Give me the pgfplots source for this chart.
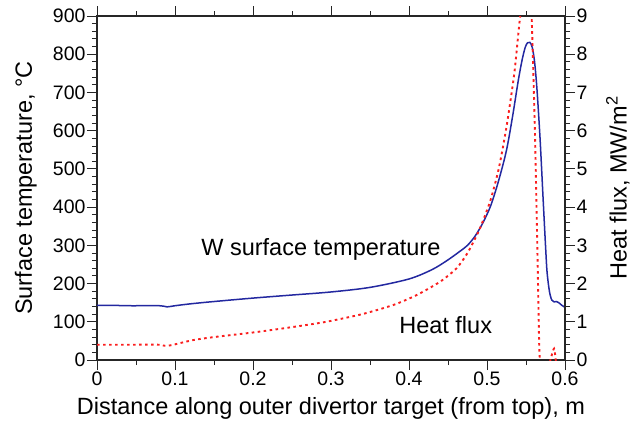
\documentclass[border=0pt]{standalone}
\usepackage{fontspec}
\setmainfont{Liberation Sans}
\usepackage{pgfplots}
\pgfplotsset{compat=1.18}
\definecolor{tempblue}{RGB}{35,40,160}
\definecolor{fluxred}{RGB}{250,30,30}

\pgfplotstableread{
x T
0 143
0.02 143
0.04 142
0.06 142
0.08 142
0.085 141
0.09 139
0.1 142
0.12 147
0.15 153
0.2 162
0.25 170
0.3 178
0.35 190
0.4 212
0.43 237
0.45 262
0.465 284
0.475 300
0.485 325
0.495 360
0.505 405
0.515 470
0.525 549
0.533 640
0.54 730
0.545 785
0.549 818
0.552 830
0.555 831
0.558 818
0.561 780
0.564 710
0.568 580
0.572 419
0.575 300
0.577 230
0.58 180
0.583 157
0.586 152
0.589 153
0.592 150
0.596 143
0.6 138
}\temptable

\pgfplotstableread{
x q
0 0.4
0.04 0.4
0.08 0.4
0.085 0.38
0.09 0.37
0.1 0.41
0.123 0.52
0.15 0.6
0.2 0.72
0.25 0.86
0.294 1.0
0.34 1.2
0.38 1.44
0.41 1.7
0.44 2.05
0.461 2.4
0.475 2.8
0.49 3.4
0.504 4.15
0.515 5.0
0.525 6.1
0.535 7.5
0.542 8.9
0.548 9.8
0.553 10
0.557 9.1
0.5615 5.93
0.565 2.44
0.567 0.35
0.569 -0.2
0.575 -0.4
0.58 -0.1
0.586 0.3
0.589 -0.2
}\fluxtable

\pgfplotsset{
  divertor/.style={
    scale only axis,
    width=468pt, height=344pt,
    xmin=0, xmax=0.6,
    tick align=outside,
    major tick length=10pt,
    minor tick length=5pt,
    axis line style={line width=1.2pt, black!85},
    tick style={line width=0.9pt, black!85},
    tick label style={font=\fontsize{19.5}{23}\selectfont},
    label style={font=\fontsize{23.5}{28}\selectfont},
    /pgf/number format/assume math mode=true,
  },
}

\begin{document}
\begin{tikzpicture}
\begin{axis}[
  divertor,
  ymin=0, ymax=900,
  xtick={0,0.1,...,0.6},
  minor x tick num=1,
  xtick pos=both,
  ytick={0,100,...,900},
  minor y tick num=4,
  ytick pos=left,
  xticklabel style={/pgf/number format/fixed, yshift=2pt},
  yticklabel style={xshift=2pt},
  xlabel={Distance along outer divertor target (from top), m},
  ylabel={Surface temperature, °C},
  xlabel style={at={(axis description cs:0.5,-0.142)}, anchor=center},
  ylabel style={at={(axis description cs:-0.152,0.5)}, anchor=center},
  clip=true,
]
\addplot[tempblue, line width=1.5pt, smooth] table[x=x, y=T] {\temptable};
\node[font=\fontsize{23.5}{28}\selectfont] at (axis cs:0.287,288) {W surface temperature};
\node[font=\fontsize{23.5}{28}\selectfont] at (axis cs:0.447,92) {Heat flux};
\end{axis}
\begin{axis}[
  divertor,
  ymin=0, ymax=9,
  axis x line=none,
  axis y line*=right,
  ytick={0,1,...,9},
  minor y tick num=4,
  yticklabel style={xshift=-2pt},
  ylabel={Heat flux, MW/m\textsuperscript{2}},
  ylabel style={at={(axis description cs:1.113,0.5)}, anchor=center, rotate=0},
  clip=true,
]
\addplot[fluxred, line width=1.9pt, dash pattern=on 2.6pt off 3.4pt, smooth, tension=0.4] table[x=x, y=q] {\fluxtable};
\end{axis}
\pgfresetboundingbox
\path (-97pt,-64pt) rectangle (542pt,360pt);
\end{tikzpicture}
\end{document}
